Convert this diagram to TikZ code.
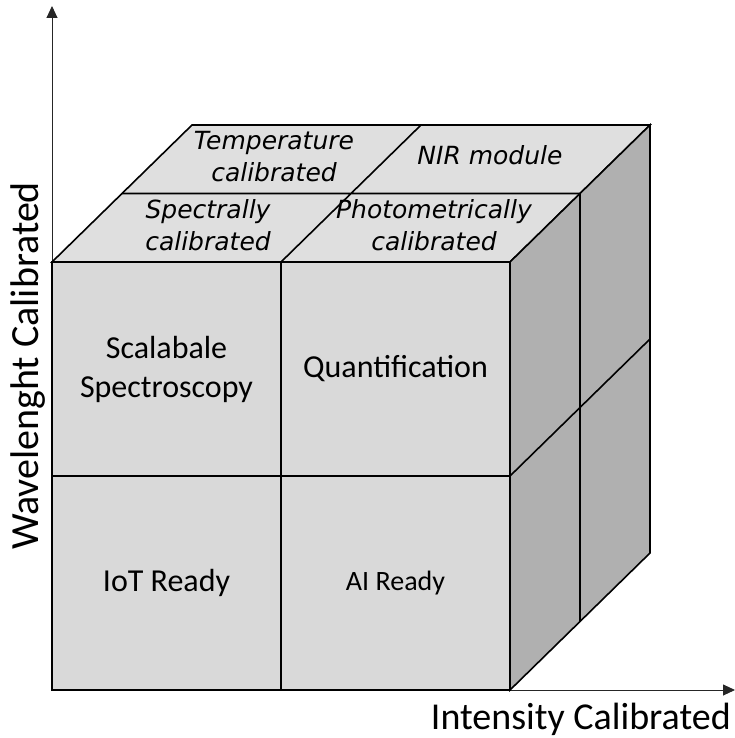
\documentclass[tikz,border=0pt]{standalone}
\usepackage{fontspec}
\setmainfont{Carlito}
\newfontfamily\topfont{DejaVu Sans}
\usetikzlibrary{arrows.meta,calc}
\definecolor{frontgray}{RGB}{217,217,217}
\definecolor{topgray}{RGB}{223,223,223}
\definecolor{sidegray}{RGB}{176,176,176}
\tikzset{
  face/.style={draw=black,line width=1.6pt,line join=miter},
  axis/.style={draw=black!85,line width=0.9pt,-{Triangle[length=12pt,width=11pt]}},
  frontlabel/.style={inner sep=0pt,align=center,font=\fontsize{32}{39}\selectfont},
  toplabel/.style={inner sep=0pt,align=center,font=\topfont\itshape\fontsize{25}{32}\selectfont},
  axislabel/.style={inner sep=0pt,font=\fontsize{38}{44}\selectfont}
}
\begin{document}
\begin{tikzpicture}[x=1pt,y=-1pt]
\useasboundingbox (0,0) rectangle (735,738);
\coordinate (d) at (70,-68.5);
% front grid
\foreach \i/\x in {0/52,1/281,2/510}{
  \foreach \j/\y in {0/262,1/476,2/690}{
    \coordinate (f\i\j) at (\x,\y);
  }
}
% top and right grids
\foreach \i in {0,1,2}{
  \foreach \k in {0,1,2}{
    \coordinate (t\i\k) at ($(f\i0)+\k*(d)$);
    \coordinate (r\i\k) at ($(f2\i)+\k*(d)$);
  }
}
% axes
\coordinate (ytip) at (52,6);
\coordinate (xtip) at (735,690);
\draw[axis] (f02) -- (ytip);
\draw[axis] (f22) -- (xtip);
% top face
\filldraw[face,fill=topgray] (t00) -- (t02) -- (t22) -- (t20) -- cycle;
\draw[face] (t01) -- (t21) (t10) -- (t12);
% right face
\filldraw[face,fill=sidegray] (r00) -- (r02) -- (r22) -- (r20) -- cycle;
\draw[face] (r01) -- (r21) (r10) -- (r12);
% front face
\filldraw[face,fill=frontgray] (f00) rectangle (f22);
\draw[face] (f01) -- (f21) (f10) -- (f12);
% front labels
\node[frontlabel] (scal) at ($(f00)!0.5!(f11)$) {Scalabale\\Spectroscopy};
\node[frontlabel] (quant) at ($(f10)!0.5!(f21)$) {Quantification};
\node[frontlabel] (iot) at ($(f01)!0.5!(f12)$) {IoT Ready};
\node[frontlabel,font=\fontsize{28}{34}\selectfont] (ai) at ($(f11)!0.5!(f22)$) {AI Ready};
% top labels
\node[toplabel] (spec) at (208,225) {Spectrally\\calibrated};
\node[toplabel] (photo) at (434,225) {Photometrically\\calibrated};
\node[toplabel] (temp) at (274,157) {Temperature\\calibrated};
\node[toplabel] (nir) at (490,155) {NIR module};
% axis labels
\node[axislabel,anchor=base east] (xlab) at (731,729) {Intensity Calibrated};
\node[axislabel,rotate=90,font=\fontsize{40}{46}\selectfont] (ylab) at (28,366) {Wavelenght Calibrated};
\end{tikzpicture}
\end{document}
